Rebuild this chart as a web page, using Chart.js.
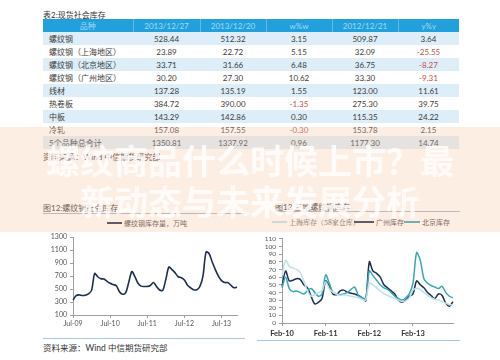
<!DOCTYPE html>
<html>
<head>
<meta charset="utf-8">
<script src="https://cdn.jsdelivr.net/npm/chart.js@4"></script>
<style>
  body{margin:0;width:500px;height:360px;background:#fff;position:relative;overflow:hidden;
       font-family:Lato,"Noto Sans CJK SC",sans-serif;color:#333;}
  .abs{position:absolute;}
  #tbl{position:absolute;left:43px;top:19px;width:416px;border-collapse:collapse;table-layout:fixed;font-size:8px;}
  #tbl th{background:#22a0dc;color:#a6daf4;font-weight:normal;height:13px;padding:0;border-left:1px solid rgba(255,255,255,0.3);}
  #tbl th:first-child{border-left:none;}
  #tbl td{height:13px;padding:0;text-align:center;color:#3c3c3c;}
  #tbl td:first-child{text-align:left;padding-left:6px;}
  #tbl tr.alt td{background:#ddeef8;}
  #tbl td.neg{color:#c0504d;}
  .cap{font-size:8px;color:#333;}
  .rule{position:absolute;height:1px;}
  .leg{position:absolute;font-size:7px;color:#444;line-height:8px;}
  .lg{position:absolute;height:2px;}
  #band{position:absolute;left:0;top:127px;width:500px;height:105px;background:rgba(248,200,165,0.3);z-index:5;}
  .big{position:absolute;left:0;width:500px;text-align:center;font-size:34px;font-weight:bold;line-height:34px;
       color:rgba(255,255,255,0.78);font-family:"Noto Sans CJK SC",sans-serif;z-index:6;}
  canvas{position:absolute;}
</style>
</head>
<body>
<div class="abs cap" style="left:43px;top:9px;">表2:现货社会库存</div>
<table id="tbl"></table>
<div class="abs cap" style="left:43px;top:151px;">资料来源：Wind 中信期货研究部</div>

<div class="abs cap" style="left:43px;top:202px;">图12:螺纹钢社会库存</div>
<div class="rule" style="left:43px;top:213px;width:202px;background:#9fb3c6;"></div>
<div class="abs cap" style="left:275px;top:201px;">图13:三地螺纹钢库存</div>
<div class="rule" style="left:275px;top:211px;width:185px;background:#9fb3c6;"></div>

<div class="lg" style="left:107px;top:222px;width:15px;background:#1c2f4f;"></div>
<div class="leg" style="left:124px;top:219px;">螺纹钢库存量，万吨</div>

<div class="lg" style="left:272px;top:221px;width:15px;background:#bfe0ea;"></div>
<div class="leg" style="left:289px;top:218px;font-family:'Noto Serif CJK SC','Noto Sans CJK SC',serif;">上海库存（58家仓库）</div>
<div class="lg" style="left:354px;top:221px;width:20px;background:#1c2f4f;"></div>
<div class="leg" style="left:376px;top:218px;">广州库存</div>
<div class="lg" style="left:404px;top:221px;width:16px;background:#35a7b8;"></div>
<div class="leg" style="left:422px;top:218px;">北京库存</div>

<canvas id="leftChart" width="205" height="105" style="left:40px;top:230px;"></canvas>
<canvas id="rightChart" width="205" height="108" style="left:255px;top:232px;"></canvas>

<div class="rule" style="left:43px;top:338px;width:202px;background:#a9c9e2;"></div>
<div class="rule" style="left:257px;top:340px;width:203px;background:#a9c9e2;"></div>
<div class="abs" style="left:43px;top:341px;font-size:8.5px;color:#333;">资料来源：Wind 中信期货研究部</div>

<div id="band"></div>
<div class="big" style="top:143px;">螺纹商品什么时候上市？最</div>
<div class="big" style="top:184px;">新动态与未来发展分析</div>

<script>
// 表2 现货社会库存
const tblHead = ['品种', '2013/12/27', '2013/12/20', 'w%w', '2012/12/21', 'y%y'];
const items = ['螺纹钢', '螺纹钢（上海地区）', '螺纹钢（北京地区）', '螺纹钢（广州地区）', '线材', '热卷板', '中板', '冷轧', '5个品种总合计'];
const stock1227 = ['528.44', '23.89', '33.71', '30.20', '137.28', '384.72', '143.29', '157.08', '1350.81'];
const stock1220 = ['512.32', '22.72', '31.66', '27.30', '135.19', '390.00', '142.86', '157.55', '1337.92'];
const wow = ['3.15', '5.15', '6.48', '10.62', '1.55', '-1.35', '0.30', '-0.30', '0.96'];
const stock1221 = ['509.87', '32.09', '36.75', '33.30', '123.00', '275.30', '115.35', '153.78', '1177.30'];
const yoy = ['3.64', '-25.55', '-8.27', '-9.31', '11.61', '39.75', '24.22', '2.15', '14.74'];

// 图12 螺纹钢库存量（万吨），月度
const leftMonths = ['Jul-09','Aug-09','Sep-09','Oct-09','Nov-09','Dec-09',
  'Jan-10','Feb-10','Mar-10','Apr-10','May-10','Jun-10','Jul-10','Aug-10','Sep-10','Oct-10','Nov-10','Dec-10',
  'Jan-11','Feb-11','Mar-11','Apr-11','May-11','Jun-11','Jul-11','Aug-11','Sep-11','Oct-11','Nov-11','Dec-11',
  'Jan-12','Feb-12','Mar-12','Apr-12','May-12','Jun-12','Jul-12','Aug-12','Sep-12','Oct-12','Nov-12','Dec-12',
  'Jan-13','Feb-13','Mar-13','Apr-13','May-13','Jun-13','Jul-13','Aug-13','Sep-13','Oct-13','Nov-13','Dec-13'];
const rebarStock = [330, 400, 410, 400, 405, 425,
  480, 740, 690, 660, 655, 620, 590, 570, 550, 460, 420, 440,
  600, 770, 690, 590, 545, 540, 540, 555, 600, 540, 485, 480,
  650, 840, 800, 750, 690, 675, 640, 560, 520, 490, 490, 540,
  700, 1070, 1045, 917, 800, 700, 630, 600, 600, 560, 520, 530];
const leftTicks = ['Jul-09', 'Jul-10', 'Jul-11', 'Jul-12', 'Jul-13'];

// 图13 三地库存，月度
const rightMonths = ['Feb-10','Mar-10','Apr-10','May-10','Jun-10','Jul-10','Aug-10','Sep-10','Oct-10','Nov-10','Dec-10',
  'Jan-11','Feb-11','Mar-11','Apr-11','May-11','Jun-11','Jul-11','Aug-11','Sep-11','Oct-11','Nov-11','Dec-11',
  'Jan-12','Feb-12','Mar-12','Apr-12','May-12','Jun-12','Jul-12','Aug-12','Sep-12','Oct-12','Nov-12','Dec-12',
  'Jan-13','Feb-13','Mar-13','Apr-13','May-13','Jun-13','Jul-13','Aug-13','Sep-13','Oct-13','Nov-13','Dec-13','Jan-14'];
const shanghai = [62, 82, 74, 72, 70, 66, 55, 42, 35, 37, 40,
  42, 54, 45, 40, 38, 36, 37, 36, 35, 34, 33, 31,
  30, 52, 50, 46, 42, 38, 36, 34, 32, 30, 28, 29,
  33, 43, 45, 44, 40, 36, 33, 31, 30, 28, 26, 24, 24];
const guangzhou = [48, 68, 55, 56, 58, 57, 50, 46, 35, 25, 27,
  32, 55, 48, 38, 37, 42, 43, 40, 39, 38, 36, 33,
  29, 80, 68, 65, 60, 50, 46, 42, 38, 30, 27, 30,
  35, 38, 55, 50, 46, 40, 36, 32, 38, 36, 26, 22, 28];
const beijing = [46, 60, 45, 41, 42, 40, 38, 42, 45, 40, 35,
  38, 63, 52, 40, 38, 37, 38, 40, 44, 47, 36, 33,
  32, 68, 62, 56, 50, 46, 44, 40, 35, 32, 30, 33,
  38, 52, 92, 82, 58, 52, 49, 47, 45, 48, 40, 35, 33];
const rightTicks = ['Feb-10', 'Feb-11', 'Feb-12', 'Feb-13'];

// build table
const tbl = document.getElementById('tbl');
let html = '<colgroup><col style="width:90px"><col style="width:67px"><col style="width:66px"><col style="width:66px"><col style="width:66px"><col style="width:61px"></colgroup>';
html += '<tr>' + tblHead.map(h => '<th>' + h + '</th>').join('') + '</tr>';
items.forEach((name, i) => {
  const cells = [stock1227[i], stock1220[i], wow[i], stock1221[i], yoy[i]];
  html += '<tr class="' + (i % 2 === 0 ? 'alt' : '') + '"><td>' + name + '</td>' +
    cells.map(v => '<td' + (v.charAt(0) === '-' ? ' class="neg"' : '') + '>' + v + '</td>').join('') + '</tr>';
});
tbl.innerHTML = html;

Chart.defaults.font.family = 'Lato, "DejaVu Sans", sans-serif';

function tickGrid(labels, ticks) {
  return {
    display: true, drawOnChartArea: false, tickLength: 3,
    color: c => ticks.includes(labels[c.index]) ? '#9a9a9a' : 'rgba(0,0,0,0)'
  };
}

// 左图
new Chart(document.getElementById('leftChart'), {
  type: 'line',
  data: {
    labels: leftMonths,
    datasets: [{ data: rebarStock, borderColor: '#1c2f4f', borderWidth: 1.6, pointRadius: 0, tension: 0.3, fill: false }]
  },
  options: {
    responsive: false, animation: false,
    plugins: { legend: { display: false }, tooltip: { enabled: false } },
    layout: { padding: { top: 6, right: 8, left: 0, bottom: 0 } },
    scales: {
      x: {
        grid: tickGrid(leftMonths, leftTicks),
        border: { color: '#a0a0a0' },
        ticks: { autoSkip: false, maxRotation: 0, padding: 2, font: { size: 7 }, color: '#555',
          callback: (v, i) => leftTicks.includes(leftMonths[i]) ? leftMonths[i] : '' },
        afterFit: s => { s.height = 20; }
      },
      y: {
        min: 100, max: 1300,
        ticks: { stepSize: 200, autoSkip: false, font: { size: 7 }, color: '#555', padding: 3, callback: v => String(v) },
        grid: { display: true, drawOnChartArea: false, tickLength: 3, color: '#a0a0a0' },
        border: { color: '#a0a0a0' },
        afterFit: s => { s.width = 33; }
      }
    }
  }
});

// 右图
new Chart(document.getElementById('rightChart'), {
  type: 'line',
  data: {
    labels: rightMonths,
    datasets: [
      { label: '上海库存（58家仓库）', data: shanghai, borderColor: '#bfe0ea', borderWidth: 1.5, pointRadius: 0, tension: 0.3 },
      { label: '北京库存', data: beijing, borderColor: '#35a7b8', borderWidth: 1.5, pointRadius: 0, tension: 0.3 },
      { label: '广州库存', data: guangzhou, borderColor: '#1c2f4f', borderWidth: 1.5, pointRadius: 0, tension: 0.3 }
    ]
  },
  options: {
    responsive: false, animation: false,
    plugins: { legend: { display: false }, tooltip: { enabled: false } },
    layout: { padding: { top: 6, right: 7, left: 0, bottom: 0 } },
    scales: {
      x: {
        grid: tickGrid(rightMonths, rightTicks),
        border: { color: '#a0a0a0' },
        ticks: { autoSkip: false, maxRotation: 0, padding: 3, font: { size: 7.5, weight: 'bold' }, color: '#333',
          callback: (v, i) => rightTicks.includes(rightMonths[i]) ? rightMonths[i] : '' },
        afterFit: s => { s.height = 17; }
      },
      y: {
        min: 0, max: 110,
        ticks: { stepSize: 10, autoSkip: false, font: { size: 6.5 }, color: '#555', padding: 3 },
        grid: { display: true, drawOnChartArea: false, tickLength: 3, color: '#a0a0a0' },
        border: { color: '#a0a0a0' },
        afterFit: s => { s.width = 27; }
      }
    }
  }
});
</script>
</body>
</html>
